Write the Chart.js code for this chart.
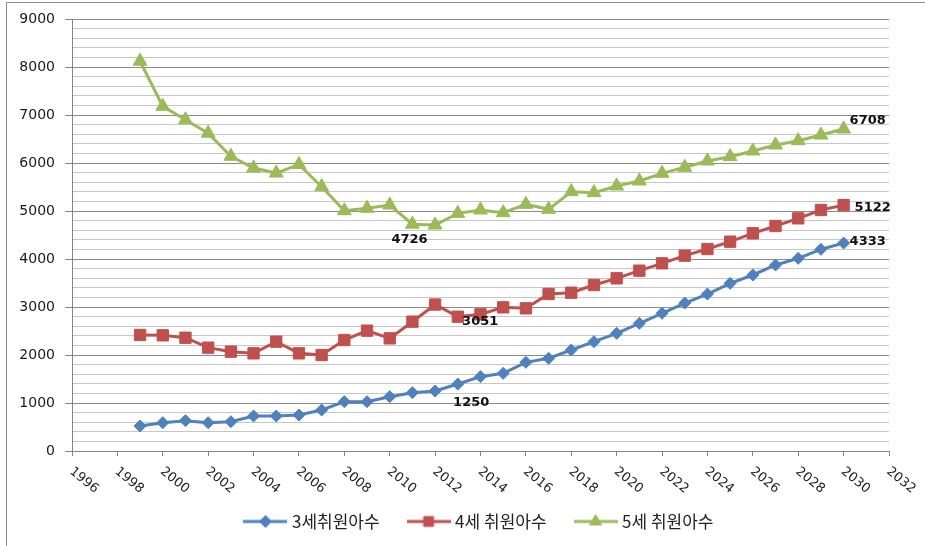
<!DOCTYPE html>
<html>
<head>
<meta charset="utf-8">
<script src="https://cdn.jsdelivr.net/npm/chart.js@4/dist/chart.umd.min.js"></script>
<style>
  html, body { margin: 0; padding: 0; background: #fff; }
  #wrap { position: relative; width: 925px; height: 546px; }
</style>
</head>
<body>
<div id="wrap"><canvas id="chart"></canvas></div>
<script>
// enrolment by age, 1999-2030
const years = [
  1999, 2000, 2001, 2002, 2003, 2004, 2005, 2006, 2007, 2008, 2009,
  2010, 2011, 2012, 2013, 2014, 2015, 2016, 2017, 2018, 2019, 2020,
  2021, 2022, 2023, 2024, 2025, 2026, 2027, 2028, 2029, 2030,
];
const age3 = [
  521, 590, 632, 590, 611, 729, 729, 750, 854, 1028, 1028,
  1132, 1215, 1250, 1396, 1549, 1618, 1847, 1931, 2104, 2278, 2451,
  2660, 2868, 3083, 3270, 3493, 3667, 3875, 4014, 4201, 4333,
];
const age4 = [
  2417, 2410, 2360, 2153, 2070, 2035, 2278, 2035, 2000, 2312, 2507,
  2347, 2694, 3051, 2798, 2847, 2993, 2972, 3271, 3298, 3458, 3597,
  3757, 3910, 4070, 4208, 4361, 4535, 4688, 4847, 5021, 5122,
];
const age5 = [
  8120, 7180, 6900, 6620, 6140, 5895, 5790, 5970, 5506, 5006, 5056,
  5125, 4726, 4708, 4951, 5021, 4965, 5139, 5035, 5403, 5382, 5521,
  5625, 5785, 5910, 6042, 6132, 6250, 6375, 6465, 6583, 6708,
];
const seriesNames = ['3세취원아수', '4세 취원아수', '5세 취원아수'];

const BLUE = '#4f81bd';
const RED = '#c0504d';
const GREEN = '#9bbb59';

const toPoints = (values) => values.map((v, i) => ({ x: years[i], y: v }));

// legend swatch: short line with the series marker in the middle
function swatch(color, pointStyle, radius) {
  const c = document.createElement('canvas');
  c.width = 44;
  c.height = 16;
  const ctx = c.getContext('2d');
  ctx.strokeStyle = color;
  ctx.fillStyle = color;
  ctx.lineWidth = 3;
  ctx.beginPath();
  ctx.moveTo(0, 8);
  ctx.lineTo(44, 8);
  ctx.stroke();
  ctx.lineWidth = 1;
  Chart.helpers.drawPoint(ctx, { pointStyle, radius, borderWidth: 1 }, 22, 8);
  return c;
}

const frame = {
  id: 'frame',
  beforeDraw(chart) {
    const { ctx } = chart;
    ctx.save();
    ctx.fillStyle = '#fff';
    ctx.fillRect(0, 0, chart.width, chart.height);
    ctx.strokeStyle = '#8c8c8c';
    ctx.lineWidth = 1;
    ctx.strokeRect(6.5, 2.5, chart.width + 20, chart.height + 20);
    ctx.restore();
  },
};

// x labels slanted downward to the right, starting at the tick
const slantedTicks = {
  id: 'slantedTicks',
  afterDraw(chart) {
    const { ctx } = chart;
    const scale = chart.scales.x;
    ctx.save();
    ctx.font = '13px "DejaVu Sans"';
    ctx.fillStyle = '#222';
    ctx.textAlign = 'left';
    ctx.textBaseline = 'middle';
    scale.ticks.forEach((tick) => {
      const px = scale.getPixelForValue(tick.value);
      ctx.save();
      ctx.translate(px - 1, scale.top + 19);
      ctx.rotate((39 * Math.PI) / 180);
      ctx.fillText(String(tick.value), 0, 0);
      ctx.restore();
    });
    ctx.restore();
  },
};

// value labels next to selected points
const valueLabels = {
  id: 'valueLabels',
  afterDatasetsDraw(chart, args, opts) {
    const { ctx } = chart;
    ctx.save();
    ctx.font = 'bold 13px "DejaVu Sans"';
    ctx.fillStyle = '#111';
    ctx.textAlign = 'left';
    ctx.textBaseline = 'middle';
    opts.items.forEach(({ dataset, year, dx, dy }) => {
      const idx = years.indexOf(year);
      const el = chart.getDatasetMeta(dataset).data[idx];
      const value = chart.data.datasets[dataset].data[idx].y;
      ctx.fillText(String(value), el.x + dx, el.y + dy);
    });
    ctx.restore();
  },
};

const swatches = [
  swatch(BLUE, 'rectRot', 6),
  swatch(RED, 'rect', 7),
  swatch(GREEN, 'triangle', 7),
];

new Chart(document.getElementById('chart'), {
  type: 'line',
  data: {
    datasets: [
      {
        label: seriesNames[0],
        data: toPoints(age3),
        borderColor: BLUE,
        backgroundColor: BLUE,
        borderWidth: 3,
        pointStyle: 'rectRot',
        pointRadius: 6,
        pointBorderWidth: 1,
      },
      {
        label: seriesNames[1],
        data: toPoints(age4),
        borderColor: RED,
        backgroundColor: RED,
        borderWidth: 3,
        pointStyle: 'rect',
        pointRadius: 8,
        pointBorderWidth: 1,
      },
      {
        label: seriesNames[2],
        data: toPoints(age5),
        borderColor: GREEN,
        backgroundColor: GREEN,
        borderWidth: 3,
        pointStyle: 'triangle',
        pointRadius: 8,
        pointBorderWidth: 1,
      },
    ],
  },
  options: {
    responsive: true,
    maintainAspectRatio: false,
    animation: false,
    layout: {
      padding: { left: 0, right: 36, top: 19, bottom: 6 },
    },
    plugins: {
      tooltip: { enabled: false },
      legend: {
        position: 'bottom',
        fullSize: false,
        labels: {
          usePointStyle: true,
          pointStyleWidth: 36,
          padding: 31,
          color: '#222',
          font: { family: '"Noto Sans CJK KR"', size: 17 },
          generateLabels: (chart) => Chart.defaults.plugins.legend.labels
            .generateLabels(chart)
            .map((item, i) => ({ ...item, pointStyle: swatches[i] })),
        },
      },
      valueLabels: {
        items: [
          { dataset: 2, year: 2030, dx: 6, dy: -8 },
          { dataset: 1, year: 2030, dx: 11, dy: 2 },
          { dataset: 0, year: 2030, dx: 6, dy: -1 },
          { dataset: 2, year: 2011, dx: -21, dy: 15 },
          { dataset: 1, year: 2012, dx: 27, dy: 17 },
          { dataset: 0, year: 2012, dx: 18, dy: 12 },
        ],
      },
    },
    scales: {
      x: {
        type: 'linear',
        min: 1996,
        max: 2032,
        ticks: { stepSize: 2, display: false, autoSkip: false },
        grid: {
          drawOnChartArea: false,
          drawTicks: true,
          tickLength: 5,
          color: '#868686',
        },
        border: { color: '#868686' },
        afterFit: (scale) => { scale.height = 31; },
      },
      y: {
        min: 0,
        max: 9000,
        ticks: {
          stepSize: 200,
          maxTicksLimit: 100,
          autoSkip: false,
          padding: 10,
          color: '#1a1a1a',
          font: { family: '"DejaVu Sans"', size: 14 },
          callback: (v) => (v % 1000 === 0 ? String(v) : ''),
        },
        grid: {
          tickLength: 7,
          color: (ctx) => (ctx.tick && ctx.tick.value % 1000 === 0 ? '#8c8c8c' : '#c6c6c6'),
          tickColor: (ctx) => (ctx.tick && ctx.tick.value % 1000 === 0 ? '#868686' : 'rgba(0,0,0,0)'),
        },
        border: { color: '#868686' },
        afterFit: (scale) => { scale.width = 72; },
      },
    },
  },
  plugins: [frame, slantedTicks, valueLabels],
});
</script>
</body>
</html>
